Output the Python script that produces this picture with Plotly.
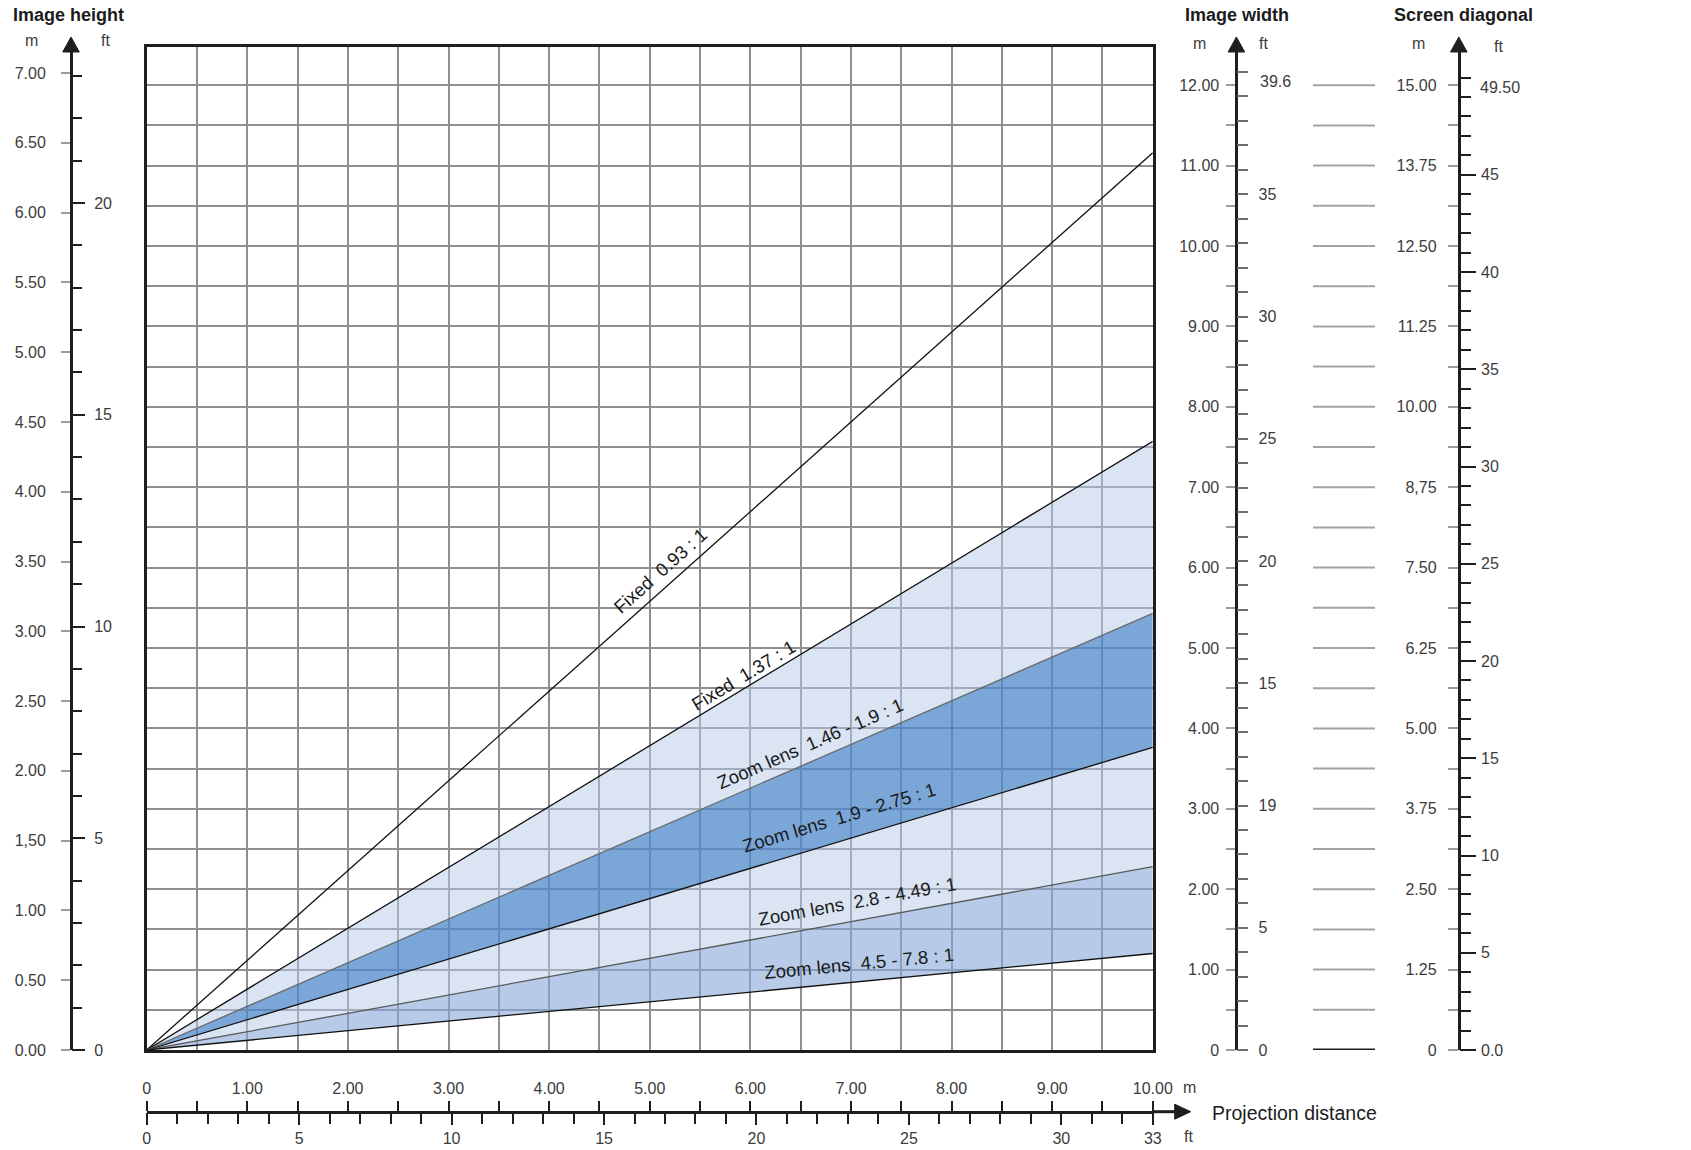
import math
import plotly.graph_objects as go

# ── page / plot geometry (pixels of the 1691x1150 picture) ───────────────────
W, H = 1691, 1150
PLOT_L, PLOT_R = 146.7, 1152.8
PLOT_T, PLOT_B = 47.3, 1050.0

INK = "#1e1e1e"
TICK_GREY = "#9c9c9c"
GRID = "#8e8e93"
FONT = "Liberation Sans, Arial, sans-serif"
TICK_FONT = dict(family=FONT, size=16, color="#3c3c3c")

# pixel scales
PX_DIST_M = (PLOT_R - PLOT_L) / 10.0
PX_WIDTH_M = 80.4
PX_WIDTH_FT = 24.45
PX_HEIGHT_M = 139.57
PX_HEIGHT_FT = 42.35
PX_DIAG_M = PX_WIDTH_M / 1.25
PX_DIAG_FT = 19.45

# ── data ─────────────────────────────────────────────────────────────────────
DIST = [0, 10]
LENS_NAMES = [
    "Fixed\u00a0\u00a00.93 : 1",
    "Fixed\u00a0\u00a01.37 : 1",
    "Zoom lens\u00a0\u00a01.46 - 1.9 : 1",
    "Zoom lens\u00a0\u00a01.9 - 2.75 : 1",
    "Zoom lens\u00a0\u00a02.8 - 4.49 : 1",
    "Zoom lens\u00a0\u00a04.5 - 7.8 : 1",
]
# image width (m) at 10 m projection distance, per edge line
WIDTH_AT_10M = [11.16, 7.57, 5.43, 3.765, 2.28, 1.20]
LINE_COLORS = ["#111111", "#111111", "#6a6a6a", "#111111", "#5a5a5a", "#111111"]
BAND_FILLS = [None, None,
              "rgba(181,201,229,0.5)",   # light
              "rgba(78,136,203,0.75)",   # dark
              "rgba(181,201,229,0.5)",   # light
              "rgba(135,168,217,0.6)"]   # medium
LABEL_X = [5.11, 5.93, 6.60, 6.89, 7.06, 7.08]
LABEL_Y = [5.96, 4.66, 3.81, 2.89, 1.85, 1.07]

HEIGHT_M_VALS = [i * 0.5 for i in range(15)]
HEIGHT_M_TEXT = ["0.00", "0.50", "1.00", "1,50", "2.00", "2.50", "3.00", "3.50",
                 "4.00", "4.50", "5.00", "5.50", "6.00", "6.50", "7.00"]
HEIGHT_FT_VALS = [0, 5, 10, 15, 20]
HEIGHT_FT_TEXT = ["0", "5", "10", "15", "20"]
HEIGHT_FT_MINOR = list(range(24))

WIDTH_M_VALS = [i * 0.5 for i in range(25)]
WIDTH_M_TEXT = ["0" if v == 0 else (f"{v:.2f}" if v == int(v) else "") for v in WIDTH_M_VALS]
WIDTH_FT_VALS = [0, 5, 10, 15, 20, 25, 30, 35]
WIDTH_FT_TEXT = ["0", "5", "19", "15", "20", "25", "30", "35"]
WIDTH_FT_MINOR = list(range(41))
WIDTH_FT_TOP = ("39.6", 39.6)

DIAG_M_VALS = [i * 0.625 for i in range(25)]
DIAG_M_TEXT = ["0", "", "1.25", "", "2.50", "", "3.75", "", "5.00", "", "6.25", "",
               "7.50", "", "8,75", "", "10.00", "", "11.25", "", "12.50", "",
               "13.75", "", "15.00"]
DIAG_FT_VALS = [0, 5, 10, 15, 20, 25, 30, 35, 40, 45]
DIAG_FT_TEXT = ["0.0", "5", "10", "15", "20", "25", "30", "35", "40", "45"]
DIAG_FT_MINOR = list(range(51))
DIAG_FT_TOP = ("49.50", 49.5)

DIST_M_VALS = [i * 0.5 for i in range(21)]
DIST_M_TEXT = ["0" if v == 0 else (f"{v:.2f}" if v == int(v) else "") for v in DIST_M_VALS]
DIST_FT_VALS = [0, 5, 10, 15, 20, 25, 30, 33]
DIST_FT_TEXT = ["0", "5", "10", "15", "20", "25", "30", "33"]
DIST_FT_MINOR = list(range(34))

GRID_ROWS = [i * 0.5 for i in range(25)]   # marker rows between the two right scales


def fx(px):
    return px / W


def fy(py):
    return 1 - py / H


PLOT_H = PLOT_B - PLOT_T
AX_LEFT_X = 71.0
AX_WIDTH_X = 1236.4
AX_DIAG_X = 1458.8
AX_DIST_Y = 1111.7
DIST_AXIS_END = 1176.7

fig = go.Figure()

# ── throw-distance lines and lens bands ──────────────────────────────────────
for name, w_end, color, fill in zip(LENS_NAMES, WIDTH_AT_10M, LINE_COLORS, BAND_FILLS):
    fig.add_trace(go.Scatter(
        x=DIST, y=[0, w_end], mode="lines", name=name,
        line=dict(color=color, width=1.3),
        fill="tonexty" if fill else None,
        fillcolor=fill,
        hoverinfo="skip", showlegend=False,
    ))

# empty traces so that every extra scale gets its own overlay subplot
for k in range(2, 8):
    fig.add_trace(go.Scatter(x=[None], y=[None], xaxis="x", yaxis=f"y{k}",
                             mode="markers", hoverinfo="skip", showlegend=False))
for k in (2, 3):
    fig.add_trace(go.Scatter(x=[None], y=[None], xaxis=f"x{k}", yaxis="y",
                             mode="markers", hoverinfo="skip", showlegend=False))

annotations = []
for name, w_end, lx, ly in zip(LENS_NAMES, WIDTH_AT_10M, LABEL_X, LABEL_Y):
    ang = math.degrees(math.atan(w_end * PX_WIDTH_M / (10 * PX_DIST_M)))
    annotations.append(dict(
        x=lx, y=ly, xref="x", yref="y", text=name, showarrow=False,
        textangle=-ang, font=dict(family=FONT, size=18.5, color="#1a1a1a"),
    ))


def scale_y(side, pos, rng, vals, text, ticklen, tickcolor, minor=None,
            minor_len=None, showline=False, standoff=4):
    ax = dict(
        overlaying="y", anchor="free", position=pos, side=side, range=rng,
        tickmode="array", tickvals=vals, ticktext=text,
        ticks="outside", ticklen=ticklen, tickwidth=2, tickcolor=tickcolor,
        showgrid=False, zeroline=False, showline=showline,
        linecolor=INK, linewidth=3, tickfont=TICK_FONT,
        ticklabelstandoff=standoff, automargin=False, fixedrange=True,
    )
    if minor:
        ax["minor"] = dict(tickmode="array", tickvals=minor, ticks="outside",
                           ticklen=minor_len, tickwidth=2, tickcolor=tickcolor,
                           showgrid=False)
    return ax


def scale_x(side, rng, vals, text, ticklen, minor=None, minor_len=None,
            showline=False, standoff=4):
    ax = dict(
        overlaying="x", anchor="free", position=fy(AX_DIST_Y), side=side, range=rng,
        tickmode="array", tickvals=vals, ticktext=text,
        ticks="outside", ticklen=ticklen, tickwidth=2, tickcolor=INK,
        showgrid=False, zeroline=False, showline=showline,
        linecolor=INK, linewidth=3, tickfont=TICK_FONT,
        ticklabelstandoff=standoff, automargin=False, fixedrange=True,
    )
    if minor:
        ax["minor"] = dict(tickmode="array", tickvals=minor, ticks="outside",
                           ticklen=minor_len, tickwidth=2, tickcolor=INK,
                           showgrid=False)
    return ax


fig.update_layout(
    width=W, height=H,
    margin=dict(l=0, r=0, t=0, b=0),
    template="none",
    paper_bgcolor="white", plot_bgcolor="white",
    font=dict(family=FONT, color="#222"),
    showlegend=False,
    xaxis=dict(
        domain=[fx(PLOT_L), fx(PLOT_R)], range=[0, 10],
        tickmode="linear", tick0=0, dtick=0.5, showticklabels=False, ticks="",
        showgrid=True, gridcolor=GRID, gridwidth=2, zeroline=False,
        showline=True, mirror=True, linecolor=INK, linewidth=3,
        automargin=False, fixedrange=True,
    ),
    yaxis=dict(
        domain=[fy(PLOT_B), fy(PLOT_T)], range=[0, PLOT_H / PX_WIDTH_M],
        tickmode="linear", tick0=0, dtick=0.5, showticklabels=False, ticks="",
        showgrid=True, gridcolor=GRID, gridwidth=2, zeroline=False,
        showline=True, mirror=True, linecolor=INK, linewidth=3,
        automargin=False, fixedrange=True,
    ),
    # image height (left)
    yaxis2=scale_y("left", fx(AX_LEFT_X), [0, PLOT_H / PX_HEIGHT_M],
                   HEIGHT_M_VALS, HEIGHT_M_TEXT, 9, TICK_GREY,
                   showline=True, standoff=12),
    yaxis3=scale_y("right", fx(AX_LEFT_X), [0, PLOT_H / PX_HEIGHT_FT],
                   HEIGHT_FT_VALS, HEIGHT_FT_TEXT, 13, INK,
                   minor=HEIGHT_FT_MINOR, minor_len=10, standoff=6),
    # image width
    yaxis4=scale_y("left", fx(AX_WIDTH_X), [0, PLOT_H / PX_WIDTH_M],
                   WIDTH_M_VALS, WIDTH_M_TEXT, 9, TICK_GREY,
                   showline=True, standoff=4),
    yaxis5=scale_y("right", fx(AX_WIDTH_X), [0, PLOT_H / PX_WIDTH_FT],
                   WIDTH_FT_VALS, WIDTH_FT_TEXT, 11, "#6e6e6e",
                   minor=WIDTH_FT_MINOR, minor_len=11, standoff=7),
    # screen diagonal
    yaxis6=scale_y("left", fx(AX_DIAG_X), [0, PLOT_H / PX_DIAG_M],
                   DIAG_M_VALS, DIAG_M_TEXT, 10, TICK_GREY,
                   showline=True, standoff=8),
    yaxis7=scale_y("right", fx(AX_DIAG_X), [0, PLOT_H / PX_DIAG_FT],
                   DIAG_FT_VALS, DIAG_FT_TEXT, 16, INK,
                   minor=DIAG_FT_MINOR, minor_len=11, standoff=2),
    # projection distance (bottom), metres above the rule and feet below it
    xaxis2=scale_x("top", [0, 10], DIST_M_VALS, DIST_M_TEXT, 10,
                   showline=True, standoff=0),
    xaxis3=scale_x("bottom", [0, 33], DIST_FT_VALS, DIST_FT_TEXT, 12,
                   minor=DIST_FT_MINOR, minor_len=11, standoff=0),
)

# ── marker rows between the image-width and diagonal scales ─────────────────
shapes = []
for v in GRID_ROWS:
    shapes.append(dict(
        type="line", xref="paper", yref="y", x0=fx(1313), x1=fx(1375), y0=v, y1=v,
        line=dict(color=INK if v == 0 else "#a3a3a3", width=3 if v == 0 else 2),
    ))


def up_arrow(x):
    return dict(type="path", xref="paper", yref="paper", fillcolor=INK,
                line=dict(color=INK, width=1),
                path=f"M {fx(x)} {fy(37)} L {fx(x - 8.3)} {fy(52)} "
                     f"L {fx(x + 8.3)} {fy(52)} Z")


shapes += [up_arrow(AX_LEFT_X), up_arrow(AX_WIDTH_X), up_arrow(AX_DIAG_X)]
# projection-distance rule continues past the grid into its arrow
shapes.append(dict(type="line", xref="paper", yref="paper",
                   x0=fx(PLOT_R), x1=fx(DIST_AXIS_END), y0=fy(AX_DIST_Y), y1=fy(AX_DIST_Y),
                   line=dict(color=INK, width=3)))
shapes.append(dict(
    type="path", xref="paper", yref="paper", fillcolor=INK, line=dict(color=INK, width=1),
    path=f"M {fx(DIST_AXIS_END - 2)} {fy(AX_DIST_Y - 7.5)} L {fx(DIST_AXIS_END + 14)} "
         f"{fy(AX_DIST_Y)} L {fx(DIST_AXIS_END - 2)} {fy(AX_DIST_Y + 7.5)} Z",
))

# ── titles and unit captions ────────────────────────────────────────────────
TITLE_FONT = dict(family=FONT, size=18, color="#1c1c1c", weight="bold")
UNIT_FONT = dict(family=FONT, size=16, color="#3c3c3c")


def paper_text(text, x, y, font, xanchor="center"):
    return dict(text=text, x=fx(x), y=fy(y), xref="paper", yref="paper",
                xanchor=xanchor, yanchor="middle", showarrow=False, font=font)


annotations += [
    paper_text("Image height", 68, 15, TITLE_FONT),
    paper_text("Image width", 1237, 15, TITLE_FONT),
    paper_text("Screen diagonal", 1463, 15, TITLE_FONT),
    paper_text("m", 31.5, 41, UNIT_FONT),
    paper_text("ft", 105, 41, UNIT_FONT),
    paper_text("m", 1199, 43, UNIT_FONT),
    paper_text("ft", 1263, 43, UNIT_FONT),
    paper_text("m", 1418.5, 44, UNIT_FONT),
    paper_text("ft", 1498, 46, UNIT_FONT),
    paper_text("m", 1189, 1087, UNIT_FONT),
    paper_text("ft", 1188, 1136.5, UNIT_FONT),
    paper_text("Projection distance", 1210, 1113,
               dict(family=FONT, size=19.5, color="#1c1c1c"), xanchor="left"),
    dict(text=WIDTH_FT_TOP[0], y=WIDTH_FT_TOP[1], yref="y5", x=fx(1258), xref="paper",
         xanchor="left", yanchor="middle", showarrow=False, font=TICK_FONT),
    dict(text=DIAG_FT_TOP[0], y=DIAG_FT_TOP[1], yref="y7", x=fx(1478), xref="paper",
         xanchor="left", yanchor="middle", showarrow=False, font=TICK_FONT),
]

fig.update_layout(shapes=shapes, annotations=annotations)

fig.write_html("out.html", config={"displayModeBar": False, "staticPlot": True},
               post_script="document.body.style.margin = '0';")
